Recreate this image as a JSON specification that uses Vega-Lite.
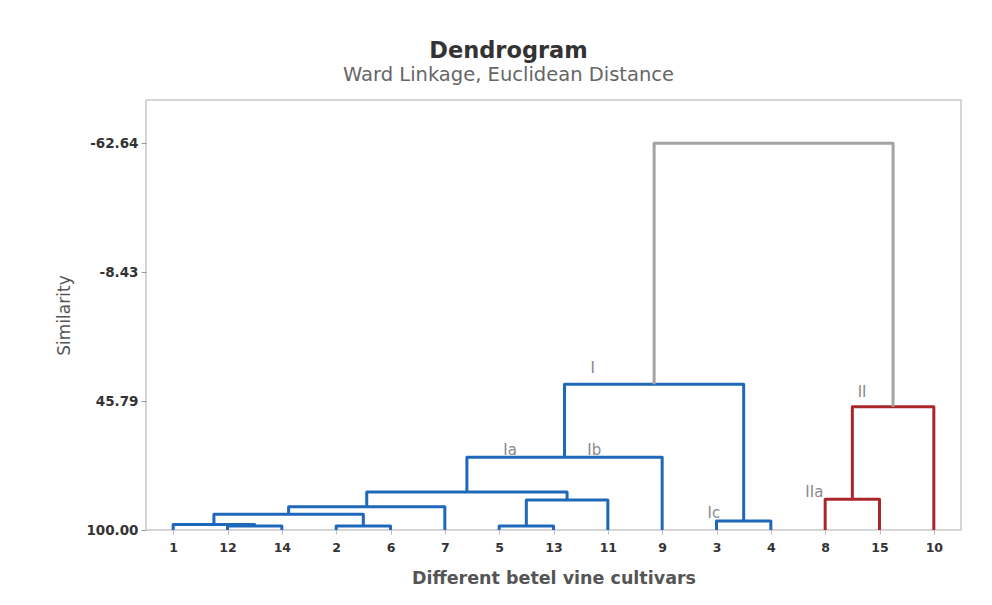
{
  "$schema": "https://vega.github.io/schema/vega-lite/v6.json",
  "width": 815,
  "height": 430,
  "autosize": {"type": "none"},
  "padding": {"left": 146, "top": 100, "right": 31, "bottom": 75},
  "background": "white",
  "config": {
    "font": "DejaVu Sans",
    "view": {"stroke": "#c8c8c8", "strokeWidth": 1.5}
  },
  "title": {
    "text": "Dendrogram",
    "subtitle": "Ward Linkage, Euclidean Distance",
    "anchor": "middle",
    "frame": "group",
    "dx": -45,
    "offset": 16,
    "font": "DejaVu Sans",
    "fontSize": 22.5,
    "fontWeight": "bold",
    "color": "#333333",
    "subtitleFont": "DejaVu Sans",
    "subtitleFontSize": 19.5,
    "subtitleColor": "#666666",
    "subtitlePadding": 3
  },
  "datasets": {
    "links": [
      {"link": "L1", "cluster": "I", "pos": 2, "sim": 100, "o": 1},
      {"link": "L1", "cluster": "I", "pos": 2, "sim": 98.3, "o": 2},
      {"link": "L1", "cluster": "I", "pos": 3, "sim": 98.3, "o": 3},
      {"link": "L1", "cluster": "I", "pos": 3, "sim": 100, "o": 4},
      {"link": "L2", "cluster": "I", "pos": 1, "sim": 100, "o": 1},
      {"link": "L2", "cluster": "I", "pos": 1, "sim": 97.7, "o": 2},
      {"link": "L2", "cluster": "I", "pos": 2.5, "sim": 97.7, "o": 3},
      {"link": "L2", "cluster": "I", "pos": 2.5, "sim": 98.3, "o": 4},
      {"link": "L3", "cluster": "I", "pos": 4, "sim": 100, "o": 1},
      {"link": "L3", "cluster": "I", "pos": 4, "sim": 98.3, "o": 2},
      {"link": "L3", "cluster": "I", "pos": 5, "sim": 98.3, "o": 3},
      {"link": "L3", "cluster": "I", "pos": 5, "sim": 100, "o": 4},
      {"link": "L4", "cluster": "I", "pos": 1.75, "sim": 97.7, "o": 1},
      {"link": "L4", "cluster": "I", "pos": 1.75, "sim": 93.4, "o": 2},
      {"link": "L4", "cluster": "I", "pos": 4.5, "sim": 93.4, "o": 3},
      {"link": "L4", "cluster": "I", "pos": 4.5, "sim": 98.3, "o": 4},
      {"link": "L5", "cluster": "I", "pos": 3.125, "sim": 93.4, "o": 1},
      {"link": "L5", "cluster": "I", "pos": 3.125, "sim": 90.2, "o": 2},
      {"link": "L5", "cluster": "I", "pos": 6, "sim": 90.2, "o": 3},
      {"link": "L5", "cluster": "I", "pos": 6, "sim": 100, "o": 4},
      {"link": "L6", "cluster": "I", "pos": 7, "sim": 100, "o": 1},
      {"link": "L6", "cluster": "I", "pos": 7, "sim": 98.3, "o": 2},
      {"link": "L6", "cluster": "I", "pos": 8, "sim": 98.3, "o": 3},
      {"link": "L6", "cluster": "I", "pos": 8, "sim": 100, "o": 4},
      {"link": "L7", "cluster": "I", "pos": 7.5, "sim": 98.3, "o": 1},
      {"link": "L7", "cluster": "I", "pos": 7.5, "sim": 87.4, "o": 2},
      {"link": "L7", "cluster": "I", "pos": 9, "sim": 87.4, "o": 3},
      {"link": "L7", "cluster": "I", "pos": 9, "sim": 100, "o": 4},
      {"link": "L8", "cluster": "I", "pos": 4.5625, "sim": 90.2, "o": 1},
      {"link": "L8", "cluster": "I", "pos": 4.5625, "sim": 84.0, "o": 2},
      {"link": "L8", "cluster": "I", "pos": 8.25, "sim": 84.0, "o": 3},
      {"link": "L8", "cluster": "I", "pos": 8.25, "sim": 87.4, "o": 4},
      {"link": "L9", "cluster": "I", "pos": 6.40625, "sim": 84.0, "o": 1},
      {"link": "L9", "cluster": "I", "pos": 6.40625, "sim": 69.4, "o": 2},
      {"link": "L9", "cluster": "I", "pos": 10, "sim": 69.4, "o": 3},
      {"link": "L9", "cluster": "I", "pos": 10, "sim": 100, "o": 4},
      {"link": "L10", "cluster": "I", "pos": 11, "sim": 100, "o": 1},
      {"link": "L10", "cluster": "I", "pos": 11, "sim": 96.2, "o": 2},
      {"link": "L10", "cluster": "I", "pos": 12, "sim": 96.2, "o": 3},
      {"link": "L10", "cluster": "I", "pos": 12, "sim": 100, "o": 4},
      {"link": "L11", "cluster": "I", "pos": 8.203, "sim": 69.4, "o": 1},
      {"link": "L11", "cluster": "I", "pos": 8.203, "sim": 38.7, "o": 2},
      {"link": "L11", "cluster": "I", "pos": 11.5, "sim": 38.7, "o": 3},
      {"link": "L11", "cluster": "I", "pos": 11.5, "sim": 96.2, "o": 4},
      {"link": "L12", "cluster": "II", "pos": 13, "sim": 100, "o": 1},
      {"link": "L12", "cluster": "II", "pos": 13, "sim": 87.1, "o": 2},
      {"link": "L12", "cluster": "II", "pos": 14, "sim": 87.1, "o": 3},
      {"link": "L12", "cluster": "II", "pos": 14, "sim": 100, "o": 4},
      {"link": "L13", "cluster": "II", "pos": 13.5, "sim": 87.1, "o": 1},
      {"link": "L13", "cluster": "II", "pos": 13.5, "sim": 48.2, "o": 2},
      {"link": "L13", "cluster": "II", "pos": 15, "sim": 48.2, "o": 3},
      {"link": "L13", "cluster": "II", "pos": 15, "sim": 100, "o": 4},
      {"link": "L14", "cluster": "root", "pos": 9.852, "sim": 38.7, "o": 1},
      {"link": "L14", "cluster": "root", "pos": 9.852, "sim": -62.64, "o": 2},
      {"link": "L14", "cluster": "root", "pos": 14.25, "sim": -62.64, "o": 3},
      {"link": "L14", "cluster": "root", "pos": 14.25, "sim": 48.2, "o": 4}
    ],
    "labels": [
      {"label": "I", "pos": 8.72, "sim": 32.0},
      {"label": "Ia", "pos": 7.2, "sim": 66.4},
      {"label": "Ib", "pos": 8.75, "sim": 66.4},
      {"label": "Ic", "pos": 10.95, "sim": 92.9},
      {"label": "II", "pos": 13.68, "sim": 41.9},
      {"label": "IIa", "pos": 12.8, "sim": 83.9}
    ]
  },
  "layer": [
    {
      "data": {"name": "links"},
      "mark": {"type": "line", "strokeWidth": 3, "strokeJoin": "round", "strokeCap": "butt"},
      "encoding": {
        "x": {
          "field": "pos",
          "type": "quantitative",
          "scale": {"domain": [0.5, 15.5], "nice": false, "zero": false},
          "axis": {
            "values": [1, 2, 3, 4, 5, 6, 7, 8, 9, 10, 11, 12, 13, 14, 15],
            "labelExpr": "['1','12','14','2','6','7','5','13','11','9','3','4','8','15','10'][datum.value - 1]",
            "grid": false,
            "domain": false,
            "tickSize": 4,
            "tickColor": "#bbbbbb",
            "labelFont": "DejaVu Sans",
            "labelFontSize": 12.5,
            "labelFontWeight": "bold",
            "labelColor": "#333333",
            "labelPadding": 7,
            "title": "Different betel vine cultivars",
            "titleFont": "DejaVu Sans",
            "titleFontSize": 17.5,
            "titleFontWeight": "bold",
            "titleColor": "#555555",
            "titlePadding": 16
          }
        },
        "y": {
          "field": "sim",
          "type": "quantitative",
          "scale": {"domain": [-80.8, 100], "reverse": true, "nice": false, "zero": false},
          "axis": {
            "values": [-62.64, -8.43, 45.79, 100],
            "labelExpr": "replace(format(datum.value, '.2f'), '\u2212', '-')",
            "grid": false,
            "domain": false,
            "tickSize": 5,
            "tickColor": "#999999",
            "labelFont": "DejaVu Sans",
            "labelFontSize": 13.5,
            "labelFontWeight": "bold",
            "labelColor": "#333333",
            "labelPadding": 3,
            "title": "Similarity",
            "titleFont": "DejaVu Sans",
            "titleFontSize": 17,
            "titleFontWeight": "normal",
            "titleColor": "#555555",
            "titlePadding": 12
          }
        },
        "detail": {"field": "link"},
        "order": {"field": "o", "type": "quantitative"},
        "color": {
          "field": "cluster",
          "type": "nominal",
          "scale": {"domain": ["I", "II", "root"], "range": ["#1f68b9", "#a9272b", "#a3a3a3"]},
          "legend": null
        }
      }
    },
    {
      "data": {"name": "labels"},
      "mark": {"type": "text", "fontSize": 15, "fill": "#8a8a8a", "align": "center", "baseline": "middle", "font": "DejaVu Sans"},
      "encoding": {
        "x": {"field": "pos", "type": "quantitative"},
        "y": {"field": "sim", "type": "quantitative"},
        "text": {"field": "label"}
      }
    }
  ]
}
